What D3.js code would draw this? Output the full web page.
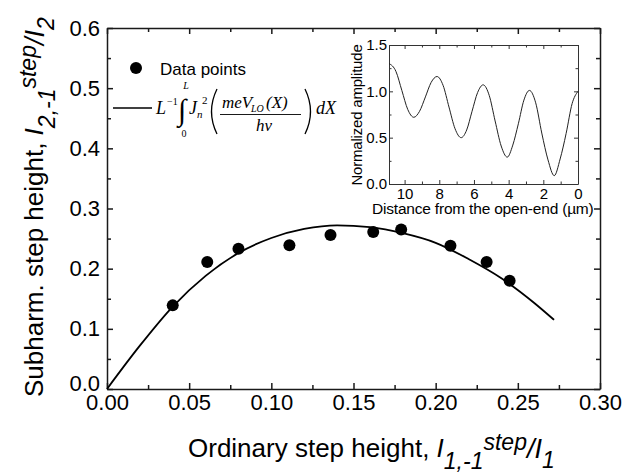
<!DOCTYPE html>
<html>
<head>
<meta charset="utf-8">
<script src="https://cdn.jsdelivr.net/npm/d3@7"></script>
<style>
  body { margin: 0; background: #fff; }
  svg { display: block; }
</style>
</head>
<body>
<div id="chart"></div>
<script>
// measured subharmonic vs ordinary step heights
const pointX = [0.040, 0.061, 0.080, 0.111, 0.136, 0.162, 0.179, 0.209, 0.231, 0.245];
const pointY = [0.139, 0.211, 0.233, 0.239, 0.256, 0.261, 0.265, 0.238, 0.211, 0.180];

// calculated curve L^-1 ∫ Jn^2(meV/hν) dX
const fitX = [0, 0.02, 0.04, 0.06, 0.08, 0.10, 0.12, 0.14, 0.16, 0.18, 0.20, 0.22, 0.24, 0.26, 0.272];
const fitY = [0, 0.072, 0.137, 0.188, 0.226, 0.251, 0.266, 0.272, 0.269, 0.259, 0.243, 0.216, 0.184, 0.143, 0.115];

// inset: normalized amplitude vs distance from the open end (um)
const insetX = [10.9, 10.5, 10.16, 9.82, 9.47, 9.14, 8.80, 8.47, 8.13, 7.78, 7.44, 7.09, 6.74, 6.42, 6.11, 5.79, 5.47,
                5.12, 4.78, 4.43, 4.08, 3.76, 3.44, 3.12, 2.80, 2.44, 2.09, 1.73, 1.37, 1.03, 0.685, 0.34, 0];
const insetY = [1.30, 1.215, 1.01, 0.805, 0.72, 0.784, 0.94, 1.096, 1.16, 1.064, 0.83, 0.596, 0.50, 0.583, 0.785, 0.987, 1.07,
                0.956, 0.68, 0.41, 0.29, 0.42, 0.65, 0.905, 1.01, 0.876, 0.55, 0.26, 0.09, 0.27, 0.545, 0.867, 1.00];

const xTicks = [0, 0.05, 0.10, 0.15, 0.20, 0.25, 0.30];
const yTicks = [0, 0.1, 0.2, 0.3, 0.4, 0.5, 0.6];
const insetXTicks = [10, 8, 6, 4, 2, 0];
const insetYTicks = [0, 0.5, 1.0, 1.5];

const SANS = '"Liberation Sans", Arial, Helvetica, sans-serif';
const SERIF = '"Liberation Serif", "Times New Roman", serif';

const svg = d3.select('#chart').append('svg')
  .attr('width', 640)
  .attr('height', 476)
  .style('background', '#fff');

// draws a closed frame with inward ticks on all four sides
function drawFrame(g, xs, ys, o) {
  const [x0, x1] = xs.range();
  const [y0, y1] = ys.range();
  const sides = [
    [() => d3.axisBottom(xs), `translate(0,${y0})`, o.xTicks, o.xMinor, o.xFmt],
    [() => d3.axisTop(xs), `translate(0,${y1})`, o.xTicks, o.xMinor, null],
    [() => d3.axisLeft(ys), `translate(${x0},0)`, o.yTicks, o.yMinor, o.yFmt],
    [() => d3.axisRight(ys), `translate(${x1},0)`, o.yTicks, o.yMinor, null]
  ];
  const axes = sides.map(([make, tr, major, minor, fmt], i) => {
    const a = g.append('g').attr('transform', tr)
      .call(make().tickValues(major).tickSizeInner(-o.major).tickSizeOuter(0)
        .tickPadding(i < 2 ? o.xPad : o.yPad)
        .tickFormat(fmt || (() => '')))
      .attr('font-family', SANS)
      .attr('font-size', o.fs);
    a.selectAll('line, path').attr('stroke', o.color).attr('stroke-width', o.sw);
    a.selectAll('text').attr('fill', '#000');

    g.append('g').attr('transform', tr)
      .call(make().tickValues(minor).tickSizeInner(-o.minor).tickSizeOuter(0).tickFormat(() => ''))
      .call(s => s.select('.domain').remove())
      .selectAll('line').attr('stroke', o.color).attr('stroke-width', o.sw);
    return a;
  });
  return axes;
}

// ---------- main plot ----------
const x = d3.scaleLinear().domain([0, 0.30]).range([107, 600]);
const y = d3.scaleLinear().domain([0, 0.6]).range([389, 28]);

const main = svg.append('g');
const mainAxes = drawFrame(main, x, y, {
  xTicks, yTicks,
  xMinor: d3.range(0.025, 0.3, 0.05),
  yMinor: d3.range(0.05, 0.6, 0.1),
  xFmt: d3.format('.2f'), yFmt: d3.format('.1f'),
  major: 6, minor: 4, xPad: 5, yPad: 7, fs: 22, color: '#1a1a1a', sw: 1.5
});
// the 0.0 label sits a little higher in the original
mainAxes[2].selectAll('.tick text').filter(d => d === 0).attr('dy', '0.05em');

main.append('path')
  .datum(d3.zip(fitX, fitY))
  .attr('fill', 'none')
  .attr('stroke', '#000')
  .attr('stroke-width', 1.8)
  .attr('d', d3.line().x(d => x(d[0])).y(d => y(d[1])).curve(d3.curveMonotoneX));

main.append('g').selectAll('circle')
  .data(d3.zip(pointX, pointY))
  .join('circle')
  .attr('cx', d => x(d[0]))
  .attr('cy', d => y(d[1]))
  .attr('r', 6)
  .attr('fill', '#000');

// axis titles
function richLabel(sel, parts) {
  parts.forEach(p => {
    const t = sel.append('tspan').text(p.t);
    if (p.i) t.attr('font-style', 'italic');
    if (p.fs) t.attr('font-size', p.fs);
    if (p.dy) t.attr('dy', p.dy);
  });
}

const xTitle = svg.append('text')
  .attr('x', 188).attr('y', 457)
  .attr('font-family', SANS).attr('font-size', 26);
richLabel(xTitle, [
  { t: 'Ordinary step height, ' },
  { t: 'I', i: true },
  { t: '1,-1', i: true, fs: 23, dy: 12 },
  { t: 'step', i: true, fs: 23, dy: -19 },
  { t: '/I', i: true, fs: 27, dy: 8 },
  { t: '1', i: true, fs: 23, dy: 10 }
]);

const yTitle = svg.append('text')
  .attr('transform', 'translate(43,397) rotate(-90)')
  .attr('font-family', SANS).attr('font-size', 26);
richLabel(yTitle, [
  { t: 'Subharm. step height, ' },
  { t: 'I', i: true },
  { t: '2,-1', i: true, fs: 23, dy: 12 },
  { t: 'step', i: true, fs: 23, dy: -19 },
  { t: '/I', i: true, fs: 27, dy: 8 },
  { t: '2', i: true, fs: 23, dy: 10 }
]);

// ---------- legend ----------
const legend = svg.append('g');
legend.append('circle').attr('cx', 136).attr('cy', 68).attr('r', 6).attr('fill', '#000');
legend.append('text').attr('x', 160).attr('y', 75)
  .attr('font-family', SANS).attr('font-size', 17).text('Data points');
legend.append('line').attr('x1', 113).attr('x2', 152).attr('y1', 108).attr('y2', 108)
  .attr('stroke', '#000').attr('stroke-width', 1.5);

const eq = legend.append('g').attr('font-family', SERIF).attr('fill', '#000');
function eqText(xp, yp, str, size, italic, anchor) {
  eq.append('text').attr('x', xp).attr('y', yp).attr('font-size', size)
    .attr('font-style', italic ? 'italic' : 'normal')
    .attr('text-anchor', anchor || 'start').text(str);
}
eqText(156, 114, 'L', 18, true);
eqText(167, 105, '−1', 10, false);
eqText(178, 120, '∫', 30, false);
eqText(186, 89, 'L', 10, true, 'middle');
eqText(184, 137, '0', 10, false, 'middle');
eqText(189, 114, 'J', 18, true);
eqText(197, 118, 'n', 11, true);
eqText(202, 104, '2', 11, false);
eqText(222, 108, 'meV', 17, true);
eqText(251, 112, 'LO', 10, true);
eqText(266, 108, '(X)', 17, true);
eqText(264, 131, 'hν', 17, true, 'middle');
eqText(316, 114, 'dX', 18, true);
eq.append('line').attr('x1', 220).attr('x2', 301).attr('y1', 114.5).attr('y2', 114.5)
  .attr('stroke', '#000').attr('stroke-width', 0.9);
eq.append('path').attr('d', 'M217,89 Q206,111.5 217,134')
  .attr('fill', 'none').attr('stroke', '#000').attr('stroke-width', 1.3);
eq.append('path').attr('d', 'M305,89 Q316,111.5 305,134')
  .attr('fill', 'none').attr('stroke', '#000').attr('stroke-width', 1.3);

// ---------- inset ----------
const ix = d3.scaleLinear().domain([10.9, 0]).range([389, 578]);
const iy = d3.scaleLinear().domain([0, 1.5]).range([184, 45]);

const inset = svg.append('g');
inset.append('rect').attr('x', 389).attr('y', 45).attr('width', 189).attr('height', 139).attr('fill', '#fff');
drawFrame(inset, ix, iy, {
  xTicks: insetXTicks, yTicks: insetYTicks,
  xMinor: d3.range(1, 11, 2),
  yMinor: [0.25, 0.75, 1.25],
  xFmt: d3.format('d'), yFmt: d3.format('.1f'),
  major: 4, minor: 2.5, xPad: 4, yPad: 2, fs: 15, color: '#333', sw: 1
});

inset.append('path')
  .datum(d3.zip(insetX, insetY))
  .attr('fill', 'none')
  .attr('stroke', '#222')
  .attr('stroke-width', 1)
  .attr('d', d3.line().x(d => ix(d[0])).y(d => iy(d[1])).curve(d3.curveMonotoneX));

inset.append('text')
  .attr('x', 372).attr('y', 214)
  .attr('font-family', SANS).attr('font-size', 15.5)
  .attr('letter-spacing', -0.2)
  .text('Distance from the open-end (µm)');

inset.append('text')
  .attr('transform', 'translate(362,115) rotate(-90)')
  .attr('text-anchor', 'middle')
  .attr('font-family', SANS).attr('font-size', 15)
  .attr('letter-spacing', -0.2)
  .text('Normalized amplitude');
</script>
</body>
</html>
